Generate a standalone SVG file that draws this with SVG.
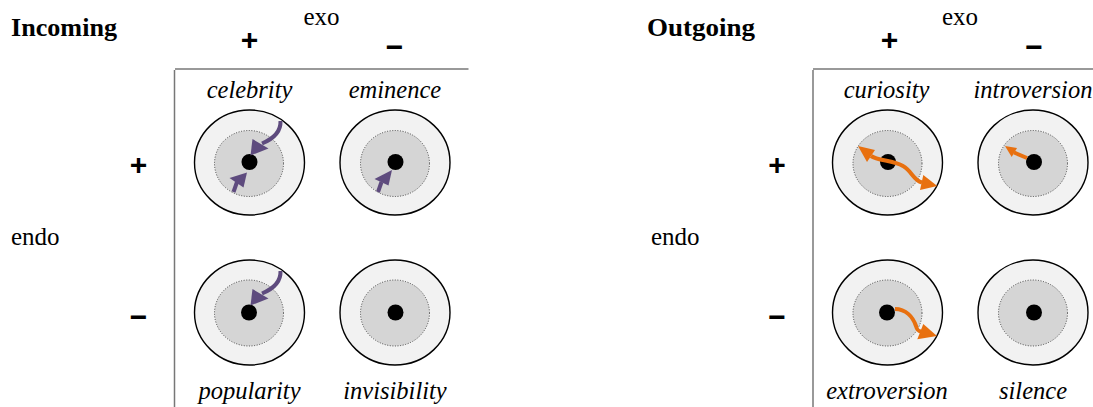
<svg xmlns="http://www.w3.org/2000/svg" width="1093" height="407" viewBox="0 0 1093 407">
<style>
.bg{fill:#ffffff}
.title{font-family:"Liberation Serif","Times New Roman",serif;font-weight:bold;font-size:25.5px;fill:#000}
.ax{font-family:"Liberation Serif","Times New Roman",serif;font-size:25px;fill:#000}
.lbl{font-family:"Liberation Serif","Times New Roman",serif;font-style:italic;font-size:24.5px;fill:#000;text-anchor:middle}
.sg{font-family:"Liberation Sans",Arial,sans-serif;font-weight:bold;font-size:30px;fill:#000;text-anchor:middle}
.rule{stroke:#777;stroke-width:1.5;fill:none}
.outer{fill:#f2f2f2;stroke:#000;stroke-width:1.4}
.inner{fill:#d5d5d5;stroke:#444;stroke-width:1;stroke-dasharray:1 1.6}
.dot{fill:#000}
.pshaft{fill:none;stroke:#5e4b7e;stroke-width:4}
.phead{fill:#5e4b7e}
.oshaft{fill:none;stroke:#e8700f;stroke-width:4}
.ohead{fill:#e8700f}
</style>
<rect class="bg" x="0" y="0" width="1093" height="407"/>

<!-- Incoming panel frame -->
<g id="incoming-frame">
<text class="title" x="11" y="36" textLength="106" lengthAdjust="spacingAndGlyphs">Incoming</text>
<text class="ax" x="321.5" y="25" text-anchor="middle">exo</text>
<text class="sg" x="249.5" y="50">+</text>
<text class="sg" x="394.5" y="57.3">−</text>
<line class="rule" x1="175" y1="69" x2="468.5" y2="69"/>
<line class="rule" x1="174.5" y1="70" x2="174.5" y2="407"/>
<text class="ax" x="11" y="245">endo</text>
<text class="sg" x="138.5" y="175.4">+</text>
<text class="sg" x="138.5" y="327">−</text>
</g>

<!-- Outgoing panel frame -->
<g id="outgoing-frame">
<text class="title" x="647" y="36" textLength="108" lengthAdjust="spacingAndGlyphs">Outgoing</text>
<text class="ax" x="960" y="25" text-anchor="middle">exo</text>
<text class="sg" x="889.5" y="50">+</text>
<text class="sg" x="1034" y="57.3">−</text>
<line class="rule" x1="813" y1="69" x2="1093" y2="69"/>
<line class="rule" x1="813" y1="70" x2="813" y2="407"/>
<text class="ax" x="651" y="245">endo</text>
<text class="sg" x="777" y="175.4">+</text>
<text class="sg" x="777" y="327">−</text>
</g>

<!-- nodes -->
<g id="celebrity">
<text class="lbl" x="249.5" y="98">celebrity</text>
<ellipse class="outer" cx="249.5" cy="162.5" rx="55" ry="52.5"/>
<ellipse class="inner" cx="249" cy="163.5" rx="34.5" ry="33"/>
<circle class="dot" cx="249.5" cy="162" r="8"/>
</g>
<g id="eminence">
<text class="lbl" x="395" y="98">eminence</text>
<ellipse class="outer" cx="395" cy="162.5" rx="55" ry="52.5"/>
<ellipse class="inner" cx="395" cy="163.5" rx="34.5" ry="33"/>
<circle class="dot" cx="395.5" cy="162" r="8"/>
</g>
<g id="popularity">
<text class="lbl" x="249.5" y="399">popularity</text>
<ellipse class="outer" cx="249.5" cy="312.5" rx="55" ry="52.5"/>
<ellipse class="inner" cx="249" cy="313" rx="34.5" ry="33"/>
<circle class="dot" cx="249" cy="312.5" r="8"/>
</g>
<g id="invisibility">
<text class="lbl" x="395" y="399">invisibility</text>
<ellipse class="outer" cx="395" cy="312.5" rx="55" ry="52.5"/>
<ellipse class="inner" cx="395" cy="313" rx="34.5" ry="33"/>
<circle class="dot" cx="395.5" cy="312.5" r="8"/>
</g>
<g id="curiosity">
<text class="lbl" x="886.5" y="98">curiosity</text>
<ellipse class="outer" cx="887.5" cy="162.5" rx="55" ry="52.5"/>
<ellipse class="inner" cx="887.5" cy="163.5" rx="34.5" ry="33"/>
<circle class="dot" cx="888" cy="162" r="8"/>
</g>
<g id="introversion">
<text class="lbl" x="1033" y="98">introversion</text>
<ellipse class="outer" cx="1033" cy="162.5" rx="55" ry="52.5"/>
<ellipse class="inner" cx="1033" cy="163.5" rx="34.5" ry="33"/>
<circle class="dot" cx="1034" cy="162" r="8"/>
</g>
<g id="extroversion">
<text class="lbl" x="887" y="399">extroversion</text>
<ellipse class="outer" cx="887.5" cy="312.5" rx="55" ry="52.5"/>
<ellipse class="inner" cx="887.5" cy="313" rx="34.5" ry="33"/>
<circle class="dot" cx="887" cy="312.5" r="8"/>
</g>
<g id="silence">
<text class="lbl" x="1033" y="399">silence</text>
<ellipse class="outer" cx="1033" cy="312.5" rx="55" ry="52.5"/>
<ellipse class="inner" cx="1033" cy="313" rx="34.5" ry="33"/>
<circle class="dot" cx="1034" cy="312.5" r="8"/>
</g>

<!-- connectors -->
<g id="connectors">
<!-- celebrity: incoming from outside (curved) -->
<path class="pshaft" d="M 280.5 121 C 281 131 275 138 262 143.5"/>
<polygon class="phead" points="252.5,139 268.5,148.5 250.5,155.5"/>
<!-- celebrity: incoming from inner -->
<path class="pshaft" d="M 233.5 192 L 237 182"/>
<polygon class="phead" points="229.5,178 243.5,187.5 247,172.5"/>
<!-- eminence -->
<path class="pshaft" d="M 378 192 L 381.5 182"/>
<polygon class="phead" points="374.5,179 388.5,185.5 392,170"/>
<!-- popularity -->
<path class="pshaft" d="M 280.5 271 C 281 281 275 288 262 293.5"/>
<polygon class="phead" points="252.5,289 268.5,298.5 250.5,305.5"/>
<!-- curiosity: double-headed wave -->
<path class="oshaft" d="M 871 156 C 878 161 893 160 903 166 C 912 171 913 180 922 182.5"/>
<polygon class="ohead" points="867,162 875,150 858,146"/>
<polygon class="ohead" points="920,190 923.3,175 937.3,186"/>
<!-- introversion -->
<path class="oshaft" d="M 1027 158 L 1014 152.5"/>
<polygon class="ohead" points="1011.7,157 1017,148 1005,146"/>
<!-- extroversion -->
<path class="oshaft" d="M 895 309 C 906 309 913 317 916 326 C 917 330 918 331 921 331.5"/>
<polygon class="ohead" points="917.3,339.3 923.3,324 937,336"/>
</g>
</svg>
